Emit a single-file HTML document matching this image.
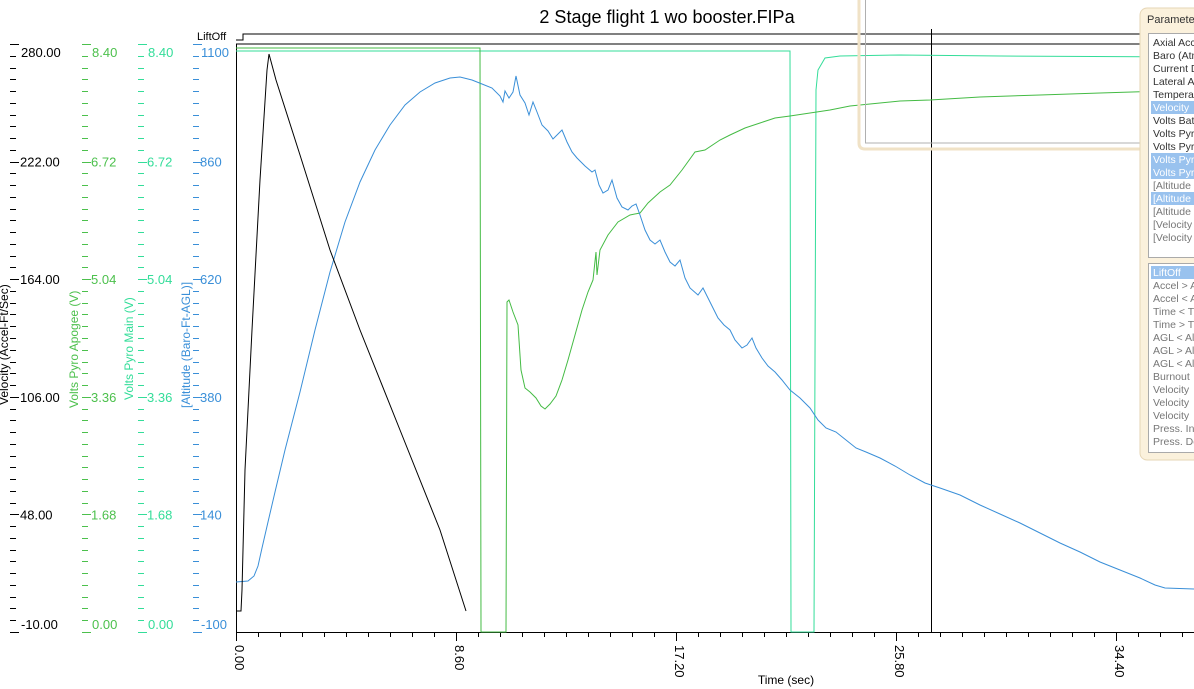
<!DOCTYPE html>
<html><head><meta charset="utf-8"><style>
body{margin:0;background:#fff;width:1194px;height:689px;overflow:hidden;font-family:"Liberation Sans",sans-serif}
svg{position:absolute;left:0;top:0}
</style></head><body>
<svg id="s" width="1194" height="689" xmlns="http://www.w3.org/2000/svg" font-family="Liberation Sans, sans-serif">
<rect width="1194" height="689" fill="#fff"/>
<text x="667" y="23" font-size="18" text-anchor="middle" fill="#000">2 Stage flight 1 wo booster.FIPa</text>
<g id="ticks"></g>
<text transform="translate(8,405) rotate(-90)" font-size="12" fill="#000">Velocity (Accel-Ft/Sec)</text>
<text transform="translate(78,408) rotate(-90)" font-size="12" fill="#4cc04c">Volts Pyro Apogee (V)</text>
<text transform="translate(133,400) rotate(-90)" font-size="12" fill="#33dd99">Volts Pyro Main (V)</text>
<text transform="translate(190,408) rotate(-90)" font-size="12" fill="#3a8fd8">[Altitude (Baro-Ft-AGL)]</text>
<text x="197" y="40" font-size="11" fill="#000">LiftOff</text>
<polyline points="236,40 243,40 243,34 1194,34" fill="none" stroke="#000" stroke-width="1"/>
<line x1="236" y1="44" x2="1194" y2="44" stroke="#000"/>
<line x1="236.5" y1="44" x2="236.5" y2="632" stroke="#000"/>
<line x1="236" y1="632.5" x2="1194" y2="632.5" stroke="#000"/>
<line x1="931.5" y1="29" x2="931.5" y2="632" stroke="#000"/>
<polyline fill="none" stroke="#33dd99" stroke-width="1" points="236,51 790,51 791,632 814,632 815,360 816,90 818,70 825,58 840,56 900,55 1000,56 1194,57"/>
<polyline fill="none" stroke="#44bb44" stroke-width="1" points="236,48 480,48 481,632 506,632 507,302 509,300 513,312 518,325 521,370 525,388 530,392 536,398 541,406 545,409 550,404 556,396 562,380 568,360 575,335 582,310 588,292 593,280 596,252 597,275 600,250 608,235 618,222 630,215 640,213 648,203 660,192 670,185 682,170 695,152 705,150 720,140 730,135 745,128 760,123 775,118 790,116 810,113 830,110 850,106 870,104 900,101 930,100 980,97 1040,95 1100,93 1194,90"/>
<polyline fill="none" stroke="#3a8fd8" stroke-width="1" points="236,582 248,581 254,576 258,566 262,548 268,522 275,492 285,450 300,392 315,330 330,272 345,222 360,182 375,150 390,125 405,105 420,92 435,83 450,78 460,77 472,80 482,84 492,88 500,96 503,102 505,91 509,98 513,92 516,76 520,95 525,103 529,115 533,102 537,112 542,125 548,131 553,139 557,135 562,130 567,142 572,152 577,158 585,166 592,172 595,170 599,185 603,193 608,190 612,180 617,198 622,207 628,210 632,206 636,204 640,215 645,230 650,240 655,244 660,240 665,252 670,262 675,266 680,260 685,278 690,288 698,295 703,288 708,298 712,306 718,318 724,325 730,330 735,340 742,348 747,345 752,338 756,348 762,358 768,366 775,372 782,380 790,390 800,398 810,408 818,420 826,428 836,432 846,440 856,448 866,452 880,458 895,466 910,475 925,483 940,488 960,495 980,505 1000,514 1020,523 1040,533 1060,543 1080,552 1100,562 1120,570 1140,578 1155,585 1165,588 1194,589"/>
<polyline fill="none" stroke="#000" stroke-width="1" points="236,611 241,611 242,590 245,470 252,330 260,180 267,70 269,54 276,80 300,155 330,250 360,330 400,430 440,530 466,611"/>
<path d="M859,-5 L859,143 Q859,149 865,149 L1200,149" fill="none" stroke="#f0e2c6" stroke-width="3"/>
<rect x="865.5" y="-2" width="340" height="145" fill="none" stroke="#b0b0b0"/>
<rect x="1140" y="8" width="70" height="452" rx="7" fill="#fbf1dc" stroke="#e6d6b6"/>
<text x="1147" y="23" font-size="11" fill="#333">Parameters</text>
<rect x="1148.5" y="33.5" width="60" height="224" fill="#fff" stroke="#aaa"/>
<rect x="1148.5" y="263.5" width="60" height="189" fill="#fff" stroke="#aaa"/>
<g id="list" font-size="10.5"></g>
</svg>
<script>
(function(){
var NS="http://www.w3.org/2000/svg";
function el(p,t,a,txt){var e=document.createElementNS(NS,t);for(var k in a)e.setAttribute(k,a[k]);if(txt!=null)e.textContent=txt;p.appendChild(e);return e;}
var g=document.getElementById('ticks');
var cols=[{x:10,c:"#000",tx:20,lab:["280.00","222.00","164.00","106.00","48.00","-10.00"]},
{x:82,c:"#4cc04c",tx:91,lab:["8.40","6.72","5.04","3.36","1.68","0.00"]},
{x:138,c:"#33dd99",tx:147,lab:["8.40","6.72","5.04","3.36","1.68","0.00"]},
{x:193,c:"#3a8fd8",tx:200,lab:["1100","860","620","380","140","-100"]}];
var y0=44,y1=632,st=(y1-y0)/5;
cols.forEach(function(c){
 for(var i=0;i<=50;i++){var y=Math.round(y0+i*st/10)+0.5;var maj=i%10==0;
  el(g,'line',{x1:c.x,x2:c.x+(maj?9:6),y1:y,y2:y,stroke:c.c});}
 for(var j=0;j<6;j++){var y=y0+j*st+5; if(j==0)y=57; if(j==5)y=629;
  el(g,'text',{x:c.tx+(j==0||j==5?1:0),y:y,'font-size':13,fill:c.c},c.lab[j]);}
});
for(var i=0;i<=43;i++){var x=236+i*22+0.5;var maj=i%10==0;
 el(g,'line',{x1:x,x2:x,y1:632,y2:632+(maj?9:5),stroke:"#000"});}
["0.00","8.60","17.20","25.80","34.40"].forEach(function(l,j){var x=236+j*220+3;
 el(g,'text',{transform:'translate('+(x-4)+',645) rotate(90)','font-size':13,fill:'#000'},l);});
el(g,'text',{x:786,y:684,'font-size':12,'text-anchor':'middle',fill:'#000'},'Time (sec)');
var L=document.getElementById('list');
var a=["Axial Acc","Baro (Atm","Current D","Lateral A","Tempera","Velocity","Volts Bat","Volts Pyr","Volts Pyr","Volts Pyr","Volts Pyr","[Altitude","[Altitude","[Altitude","[Velocity","[Velocity"];
var hl={5:1,9:1,10:1,12:1};
a.forEach(function(t,i){var y=36+i*13; if(hl[i])el(L,'rect',{x:1151,y:y,width:60,height:13,fill:'#99c2ee'});
 el(L,'text',{x:1153,y:y+10,fill:hl[i]?'#fff':(i>=11?'#777':'#333')},t);});
var b=["LiftOff","Accel > A","Accel < A","Time < Ti","Time > Ti","AGL < Al","AGL > Al","AGL < Al","Burnout","Velocity","Velocity","Velocity","Press. In","Press. De"];
b.forEach(function(t,i){var y=266+i*13; if(i==0)el(L,'rect',{x:1151,y:y,width:60,height:13,fill:'#99c2ee'});
 el(L,'text',{x:1153,y:y+10,fill:i==0?'#fff':'#777'},t);});
})();
</script>
</body></html>
